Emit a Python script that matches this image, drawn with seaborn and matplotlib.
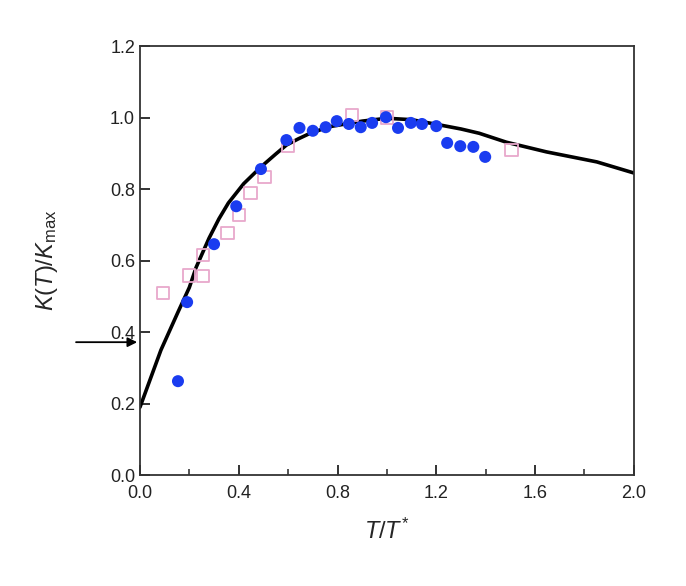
import matplotlib
matplotlib.use("Agg")
import matplotlib.pyplot as plt
import seaborn as sns
import numpy as np
from matplotlib.ticker import MultipleLocator

# blue circles
circ_x = [0.154, 0.191, 0.30, 0.39, 0.49, 0.593, 0.646, 0.70, 0.752, 0.797, 0.846,
          0.894, 0.94, 0.996, 1.045, 1.097, 1.142, 1.20, 1.244, 1.297, 1.35, 1.398]
circ_y = [0.263, 0.484, 0.646, 0.752, 0.856, 0.937, 0.971, 0.963, 0.973, 0.99, 0.982,
          0.973, 0.985, 1.001, 0.971, 0.985, 0.982, 0.976, 0.929, 0.92, 0.918, 0.89]

# open pink squares
sq_x = [0.093, 0.199, 0.256, 0.256, 0.354, 0.402, 0.447, 0.504, 0.60, 0.858, 1.0, 1.504]
sq_y = [0.509, 0.559, 0.557, 0.615, 0.677, 0.727, 0.789, 0.834, 0.92, 1.007, 1.0, 0.909]

# black curve
line_x = [0.0, 0.085, 0.154, 0.20, 0.228, 0.28, 0.32, 0.358, 0.42, 0.49, 0.55, 0.593,
          0.64, 0.683, 0.764, 0.9, 1.0, 1.1, 1.224, 1.3, 1.374, 1.484, 1.646, 1.85, 2.0]
line_y = [0.19, 0.35, 0.456, 0.525, 0.582, 0.663, 0.717, 0.761, 0.815, 0.862, 0.898, 0.923,
          0.94, 0.954, 0.974, 0.99, 0.998, 0.994, 0.978, 0.968, 0.956, 0.931, 0.904, 0.876, 0.845]

arrow_y = 0.372

sns.set_style("ticks")
plt.rcParams['font.family'] = ['Liberation Sans', 'DejaVu Sans']
plt.rcParams['mathtext.fontset'] = 'custom'
plt.rcParams['mathtext.rm'] = 'Liberation Sans'
plt.rcParams['mathtext.it'] = 'Liberation Sans:italic'

fig = plt.figure(figsize=(6.86, 5.86), dpi=100)
ax = fig.add_axes([0.204, 0.189, 0.72, 0.7325])

sns.lineplot(x=line_x, y=line_y, ax=ax, color='black', linewidth=2.6, sort=False, zorder=2)
sns.scatterplot(x=sq_x, y=sq_y, ax=ax, marker='s', s=80, facecolors='none',
                edgecolor='#e8a8cc', linewidth=1.3, zorder=3)
sns.scatterplot(x=circ_x, y=circ_y, ax=ax, marker='o', s=75, color='#1a3cf0',
                edgecolor='none', zorder=4)

ax.set_xlim(0, 2.0)
ax.set_ylim(0, 1.2)
ax.xaxis.set_major_locator(MultipleLocator(0.4))
ax.xaxis.set_minor_locator(MultipleLocator(0.2))
ax.yaxis.set_major_locator(MultipleLocator(0.2))
ax.xaxis.set_major_formatter(matplotlib.ticker.FormatStrFormatter('%.1f'))
ax.yaxis.set_major_formatter(matplotlib.ticker.FormatStrFormatter('%.1f'))
ax.tick_params(axis='both', which='major', direction='in', length=7, width=1.3,
               labelsize=13, colors='#222222', top=False, right=False)
ax.tick_params(axis='x', which='major', pad=7)
ax.tick_params(axis='x', which='minor', direction='in', length=4, width=1.1, top=False)
for sp in ax.spines.values():
    sp.set_linewidth(1.3)
    sp.set_color('#333333')

ax.set_xlabel(r'$T/T^{*}$', fontsize=17, labelpad=12)
ax.set_ylabel(r'$K(T)/K_{\rm max}$', fontsize=17, labelpad=36)

ax.annotate('', xy=(0.0, arrow_y), xycoords='data',
            xytext=(-0.27, arrow_y), textcoords='data',
            arrowprops=dict(arrowstyle='-|>', color='black', lw=1.3, mutation_scale=14),
            annotation_clip=False)

fig.savefig('out.png', dpi=100, facecolor='white')
